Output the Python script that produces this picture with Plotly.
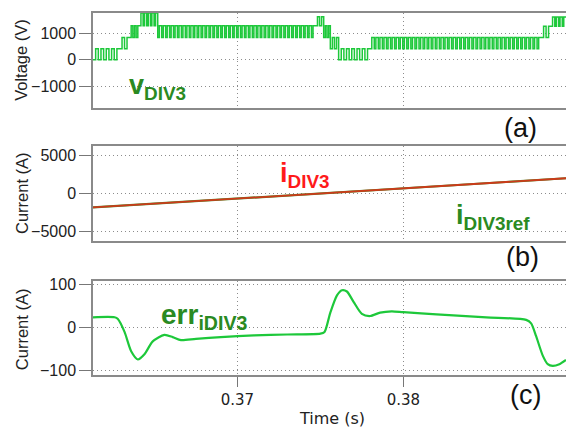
import plotly.graph_objects as go

# ---------------- data ----------------
# panel (a): PWM voltage segments
seg_t0 = [0.3613, 0.3629, 0.3635, 0.3641, 0.3652, 0.3747, 0.3752, 0.3756, 0.3761, 0.3780, 0.3883, 0.3889]
seg_t1 = [0.3629, 0.3635, 0.3641, 0.3652, 0.3747, 0.3752, 0.3756, 0.3761, 0.3780, 0.3883, 0.3889, 0.3898]
seg_lo = [0, 430, 860, 1310, 860, 1310, 860, 430, 0, 430, 860, 1290]
seg_hi = [430, 860, 1310, 1790, 1310, 1650, 1310, 860, 430, 860, 1290, 1640]
seg_n = [5, 2, 3, 5, 40, 2, 2, 2, 6, 42, 2, 4]
seg_duty = [0.5, 0.5, 0.5, 0.6, 0.6, 0.5, 0.5, 0.5, 0.5, 0.6, 0.5, 0.6]

# panel (b): current and reference
t_i = [0.3613, 0.3700, 0.3800, 0.3898]
i_div3 = [-1880, -690, 640, 1960]
i_div3_ref = [-1880, -690, 640, 1960]

# panel (c): current error
t_err = [0.3613, 0.3626, 0.3628, 0.3632, 0.3636, 0.3640, 0.3644, 0.3649, 0.3656, 0.3661,
         0.3666, 0.3675, 0.3690, 0.3710, 0.3730, 0.3750, 0.37525, 0.3756, 0.3760, 0.3763,
         0.3766, 0.3770, 0.3775, 0.3780, 0.3786, 0.3793, 0.3800, 0.3820, 0.3850, 0.3874,
         0.3877, 0.3880, 0.3884, 0.3887, 0.3890, 0.3894, 0.3898]
err = [24, 24, 20, -10, -55, -74, -62, -32, -17, -22,
       -29, -26, -22, -18, -16, -14, -10, 35, 75, 87,
       84, 60, 32, 27, 35, 38, 36, 31, 24, 18,
       10, -20, -65, -85, -89, -85, -75]

x_ticks = [0.37, 0.38]
x_tick_text = ["0.37", "0.38"]
ya_ticks = [-1000, 0, 1000]
yb_ticks = [-5000, 0, 5000]
yc_ticks = [-100, 0, 100]

# ------------- build PWM trace from segments -------------
vt, vv = [], []
for t0, t1, lo, hi, n, d in zip(seg_t0, seg_t1, seg_lo, seg_hi, seg_n, seg_duty):
    p = (t1 - t0) / n
    for k in range(n):
        ts = t0 + k * p
        vt += [ts, ts + p * (1 - d)]
        vv += [lo, hi]
vt.append(seg_t1[-1])
vv.append(seg_hi[-1])

W, H = 566, 435
ML = 93
def px_x(px):
    return (px - ML) / (W - ML)
def px_y(py):
    return 1 - py / H

GREEN = "#1DC83A"
LBL_GREEN = "#2A8A22"
RED = "#FF1A1A"
XR = [0.3613, 0.3898]

fig = go.Figure()
fig.add_trace(go.Scatter(x=vt, y=vv, mode="lines", line=dict(color=GREEN, width=1.5, shape="hv"),
                         xaxis="x", yaxis="y", showlegend=False))
fig.add_trace(go.Scatter(x=t_i, y=i_div3_ref, mode="lines", line=dict(color="#4a8a2a", width=2.2),
                         xaxis="x2", yaxis="y2", showlegend=False))
fig.add_trace(go.Scatter(x=t_i, y=i_div3, mode="lines", line=dict(color="#CC3A1A", width=1.8),
                         xaxis="x2", yaxis="y2", showlegend=False))
fig.add_trace(go.Scatter(x=t_err, y=err, mode="lines", line=dict(color=GREEN, width=2.2, shape="spline", smoothing=0.7),
                         xaxis="x3", yaxis="y3", showlegend=False))

BORDER = "#8a8a8a"
grid = dict(showgrid=True, gridcolor="#8c8c8c", griddash="1px,3px", gridwidth=1, zeroline=False)
tickfont = dict(family="Liberation Sans, Arial", size=16, color="#222")

def xax(anchor, show):
    d = dict(range=XR, domain=[0, 1], anchor=anchor, tickvals=x_ticks, ticktext=x_tick_text,
             showline=True, linecolor=BORDER, linewidth=1.5, mirror=True, **grid)
    if show:
        d.update(ticks="outside", ticklen=10, tickcolor="#777", tickwidth=1,
                 tickfont=dict(family="DejaVu Sans", size=15, color="#222"), showticklabels=True)
    else:
        d.update(ticks="", showticklabels=False)
    return d

def yax(anchor, dom, rng, tv):
    return dict(range=rng, domain=dom, anchor=anchor, tickvals=tv, ticks="outside", ticklen=12,
                tickcolor="#777", tickwidth=1, tickfont=tickfont, showline=True, linecolor=BORDER,
                linewidth=1.5, mirror=False, **grid)

annotations = []
def ann(text, px, py, size, color, family="Liberation Sans, Arial", xanchor="left", angle=0):
    annotations.append(dict(text=text, x=px_x(px), y=px_y(py), xref="paper", yref="paper",
                            xanchor=xanchor, yanchor="middle", showarrow=False, textangle=angle,
                            font=dict(family=family, size=size, color=color)))

ann("<b>v<sub>DIV3</sub></b>", 127, 84, 27, LBL_GREEN)
ann("<b>i<sub>DIV3</sub></b>", 278, 174, 27, RED)
ann("<b>i<sub>DIV3ref</sub></b>", 454, 216, 27, LBL_GREEN)
ann("<b>err<sub>iDIV3</sub></b>", 159, 318, 28, LBL_GREEN)
ann("(a)", 520, 126, 27, "#111", xanchor="center")
ann("(b)", 522, 257, 27, "#111", xanchor="center")
ann("(c)", 525, 398, 27, "#111", xanchor="center")
ann("Voltage (V)", 21, 56, 16.5, "#222", xanchor="center", angle=-90)
ann("Current (A)", 22, 192, 16.5, "#222", xanchor="center", angle=-90)
ann("Current (A)", 22, 331, 16.5, "#222", xanchor="center", angle=-90)
ann("Time (s)", 332, 422, 16, "#222", family="DejaVu Sans", xanchor="center")

fig.update_layout(
    width=W, height=H, margin=dict(l=ML, r=0, t=0, b=0),
    paper_bgcolor="white", plot_bgcolor="white",
    xaxis=xax("y", False), xaxis2=xax("y2", False), xaxis3=xax("y3", True),
    yaxis=yax("x", [px_y(105), px_y(8)], [-1835, 1800], ya_ticks),
    yaxis2=yax("x2", [px_y(241), px_y(144)], [-6290, 6200], yb_ticks),
    yaxis3=yax("x3", [px_y(378), px_y(282)], [-110.5, 108], yc_ticks),
    annotations=annotations,
)
fig.write_html("out.html")
